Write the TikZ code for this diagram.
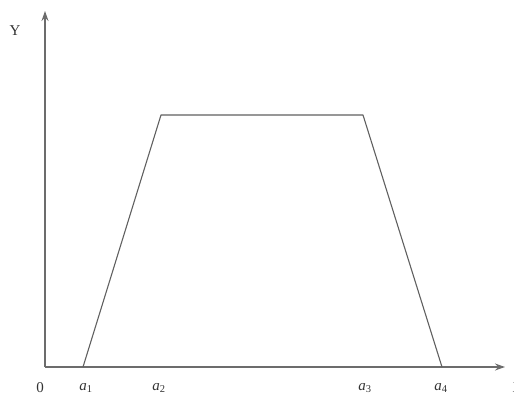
\documentclass[tikz,border=0pt]{standalone}
\usepackage{fontspec}
\setmainfont{Liberation Serif}
\usetikzlibrary{arrows.meta}

\begin{document}
\begin{tikzpicture}[x=1pt,y=-1pt,>={Stealth[length=10pt,width=7pt]},
    axis/.style={->,gray!85!black,line width=1.3pt},
    side/.style={gray!75!black,line width=1.1pt,line join=round},
    lbl/.style={inner sep=0pt,text=black!80,font=\fontsize{15}{17}\selectfont}]
  \useasboundingbox (0,0) rectangle (514,398);
  \clip (0,0) rectangle (514,398);

  \coordinate (o) at (45,367);
  \coordinate (xend) at (505,367);
  \coordinate (yend) at (45,11);
  \draw[axis] (o) -- (xend);
  \draw[axis] (o) -- (yend);

  % trapecio
  \coordinate (p1) at (83,367);
  \coordinate (p2) at (161,115);
  \coordinate (p3) at (363,115);
  \coordinate (p4) at (442,367);
  \draw[side] (p1) -- (p2) -- (p3) -- (p4);

  \node[lbl] (ylab) at (15,31) {Y};
  \node[lbl] (xlab) at (518,388) {X};
  \node[lbl] (zero) at (40,388) {0};
  \node[lbl] (a1) at (86,388) {\textit{a}\textsubscript{1}};
  \node[lbl] (a2) at (159,388) {\textit{a}\textsubscript{2}};
  \node[lbl] (a3) at (365,388) {\textit{a}\textsubscript{3}};
  \node[lbl] (a4) at (441,388) {\textit{a}\textsubscript{4}};
\end{tikzpicture}
\end{document}
